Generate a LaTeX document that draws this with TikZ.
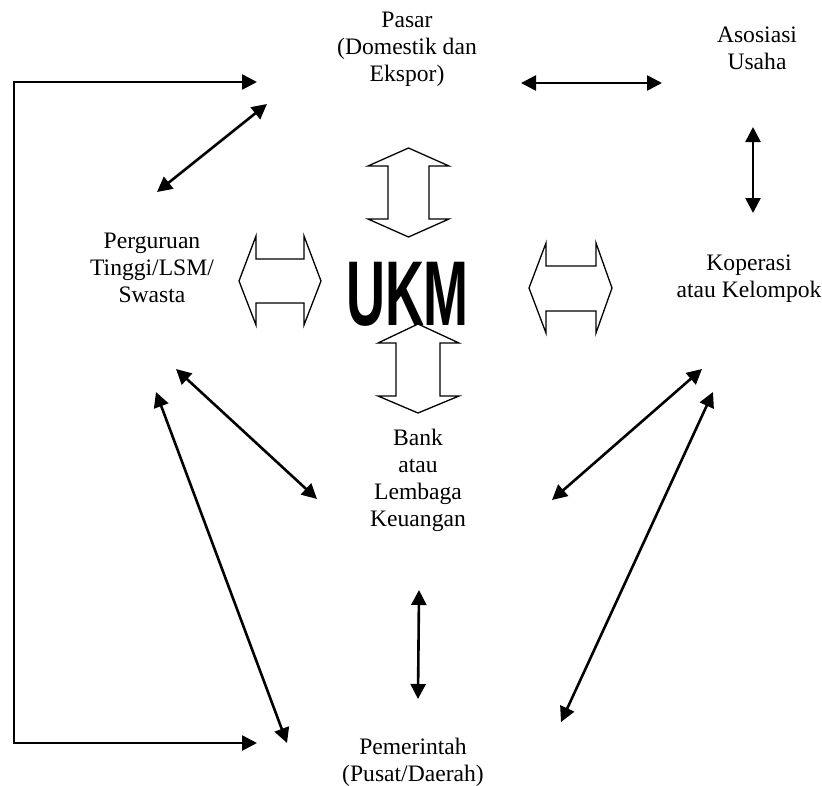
\documentclass[tikz,border=0pt]{standalone}
\usepackage{fontspec}
\setmainfont{Liberation Serif}
\newfontfamily\ukmfont{Liberation Sans}
\usetikzlibrary{arrows.meta}
\begin{document}
\begin{tikzpicture}[x=1pt,y=-1pt,
  lbl/.style={align=center,font=\fontsize{23.6}{27}\selectfont,inner sep=0pt,anchor=base},
  link/.style={line width=2.6pt,{Triangle[length=15pt,width=15pt]}-{Triangle[length=15pt,width=15pt]}},
  fatarrow/.style={line width=1.3pt,line join=miter,fill=white}]
\useasboundingbox (0,0) rectangle (822,785);

% labels (anchor = baseline of last line)
\node[lbl] (pasar) at (407,81) {Pasar\\(Domestik dan\\Ekspor)};
\node[lbl] (asosiasi) at (757,69) {Asosiasi\\Usaha};
\node[lbl] (perguruan) at (152,302) {Perguruan\\Tinggi/LSM/\\Swasta};
\node[lbl] (koperasi) at (749,297) {Koperasi\\atau Kelompok};
\node[lbl] (bank) at (418,526) {Bank\\atau\\Lembaga\\Keuangan};
\node[lbl] (pemerintah) at (413,781) {Pemerintah\\(Pusat/Daerah)};

% hollow double arrows
\draw[fatarrow] (408.5,148) -- (449,166) -- (429,166) -- (429,219) -- (449,219) -- (408.5,237)
  -- (368,219) -- (388,219) -- (388,166) -- (368,166) -- cycle;
\draw[fatarrow] (418,324) -- (459,343) -- (440,343) -- (440,396) -- (459,396) -- (418,413)
  -- (378,396) -- (396,396) -- (396,343) -- (378,343) -- cycle;
\draw[fatarrow] (239,281) -- (256,236) -- (256,259) -- (304,259) -- (304,236) -- (321,281)
  -- (304,325) -- (304,303) -- (256,303) -- (256,325) -- cycle;
\draw[fatarrow] (529,288) -- (546,243) -- (546,266) -- (596,266) -- (596,243) -- (612,288)
  -- (596,333) -- (596,311) -- (546,311) -- (546,333) -- cycle;

\node[inner sep=0pt,anchor=base] (ukm) at (407.5,325)
  {\scalebox{0.587}[1]{\ukmfont\bfseries\fontsize{92}{92}\selectfont UKM}};

% connector end points
\coordinate (pa1) at (521,83);  \coordinate (as1) at (662,83);
\coordinate (as2) at (753,127); \coordinate (ko1) at (753,213);
\coordinate (pa2) at (267,104); \coordinate (pe1) at (157,192);
\coordinate (pe2) at (176,369); \coordinate (ba1) at (317,499);
\coordinate (pe3) at (156,392); \coordinate (pm1) at (287,743);
\coordinate (ko2) at (702,369); \coordinate (ba2) at (552,500);
\coordinate (ko3) at (713,392); \coordinate (pm2) at (561,722);
\coordinate (ba3) at (419,590); \coordinate (pm3) at (418,699);
\coordinate (pa3) at (257,82);  \coordinate (pm4) at (257,743);
\coordinate (ct) at (14,82);    \coordinate (cb) at (14,743);

\draw[link] (pa1) -- (as1);
\draw[link] (as2) -- (ko1);
\draw[link] (pa2) -- (pe1);
\draw[link] (pe2) -- (ba1);
\draw[link] (pe3) -- (pm1);
\draw[link] (ko2) -- (ba2);
\draw[link] (ko3) -- (pm2);
\draw[link] (ba3) -- (pm3);
\draw[link,line join=miter] (pa3) -- (ct) -- (cb) -- (pm4);
\end{tikzpicture}
\end{document}
